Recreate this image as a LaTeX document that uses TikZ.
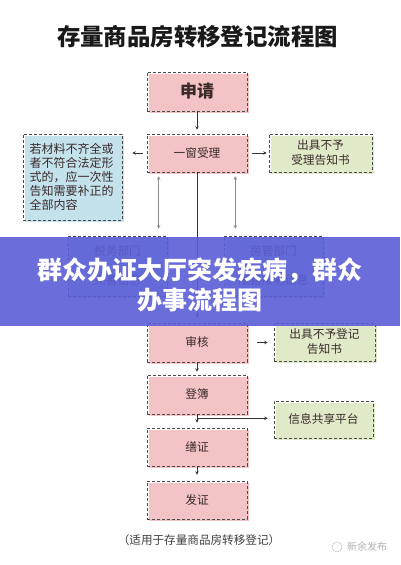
\documentclass[tikz,border=0pt]{standalone}
\usepackage{fontspec}
\newfontfamily\cjk{Noto Sans CJK SC}
\usetikzlibrary{arrows.meta,shadows,calc}
\definecolor{pinkf}{HTML}{F3C3C6}
\definecolor{greenf}{HTML}{E0EAC8}
\definecolor{bluef}{HTML}{C3E2EC}
\definecolor{bannerc}{HTML}{5A5ED6}
\definecolor{dashc}{HTML}{4A4A4A}
\definecolor{txtc}{HTML}{3A2A2A}
\begin{document}
\begin{tikzpicture}[x=1pt,y=-1pt,font=\cjk,
  box/.style={draw=dashc, dash pattern=on 3pt off 2pt, line width=0.6pt,
    minimum width=100pt, minimum height=39pt, inner sep=0pt, align=center,
    text=txtc, font=\cjk\fontsize{11.7}{15}\selectfont},
  pinkbox/.style={box, general shadow={fill=pinkf, shadow xshift=2pt, shadow yshift=-2pt}},
  greenbox/.style={box, general shadow={fill=greenf, shadow xshift=2pt, shadow yshift=-2pt}},
  bluebox/.style={box, general shadow={fill=bluef, shadow xshift=2pt, shadow yshift=-2pt}},
  arr/.style={-{Stealth[length=3.5pt,width=3.5pt]}, line width=0.6pt, draw=black!80},
  garr/.style={{Stealth[length=3.5pt,width=3.5pt]}-{Stealth[length=3.5pt,width=3.5pt]}, line width=0.6pt, draw=black!45}
]
\useasboundingbox[fill=white] (0,0) rectangle (400,565);

\node[font=\cjk\bfseries\fontsize{23.4}{28}\selectfont, text=black!90] (tt) at (197.5,37) {存量商品房转移登记流程图};

\node[pinkbox, font=\cjk\bfseries\fontsize{17}{20}\selectfont] (sq) at (197,91.5) {申请};
\node[pinkbox, minimum height=38pt] (yc) at (197,153) {一窗受理};
\node[bluebox, minimum width=99pt, minimum height=86pt, align=left, text width=86pt,
  font=\cjk\fontsize{12}{14}\selectfont] (bl) at (72.5,177) {若材料不齐全或\\者不符合法定形\\式的，应一次性\\告知需要补正的\\全部内容};
\node[greenbox, minimum width=103pt, minimum height=38pt] (g1) at (320.5,153) {出具不予\\受理告知书};

\node[bluebox, minimum width=99pt, minimum height=60pt, font=\cjk\fontsize{11.7}{29}\selectfont] (tax) at (117.5,266) {税务部门\\完善信息};
\node[bluebox, minimum width=99pt, minimum height=60pt, font=\cjk\fontsize{11.7}{29}\selectfont] (fg) at (273.5,266) {房管部门\\限售限购信息};

\node[pinkbox] (sh) at (197,342.5) {审核};
\node[greenbox, minimum width=101pt, minimum height=38pt] (g2) at (324.5,342) {出具不予登记\\告知书};
\node[pinkbox] (db) at (197,394.5) {登簿};
\node[greenbox, minimum width=99pt, minimum height=37pt] (g3) at (323.5,419.5) {信息共享平台};
\node[pinkbox, minimum height=38pt] (sz) at (197,447) {缮证};
\node[pinkbox, minimum height=38pt] (fz) at (197,500) {发证};

% connectors
\draw[arr, shorten >=4pt] (sq) -- (yc);
\draw[arr, shorten <=4pt, shorten >=10pt] (yc.west) -- (bl.east |- yc.west);
\draw[arr, shorten <=5pt, shorten >=2pt] (yc.east) -- (g1.west);
\draw[arr, shorten >=5pt] (yc.south) -- (sh.north);
\draw[garr, shorten <=4pt, shorten >=7pt] ([xshift=12pt]yc.south west) -- ([xshift=12pt]yc.south west |- tax.north);
\draw[garr, shorten <=4pt, shorten >=7pt] ([xshift=-12pt]yc.south east) -- ([xshift=-12pt]yc.south east |- fg.north);
\draw[arr, shorten <=10pt, shorten >=6pt] (sh.east) -- (g2.west |- sh.east);
\draw[arr, shorten >=3pt] (sh) -- (db);
\draw[arr, shorten >=5pt] (db) -- (sz);
\coordinate (br) at ($(db.south)!0.3!(sz.north)$);
\draw[arr, shorten >=6pt] (br) -- (br -| g3.west);
\draw[arr, shorten >=6pt] (sz) -- (fz);

\node[font=\cjk\fontsize{11.6}{14}\selectfont, text=black!75] (ft) at (199,540) {（适用于存量商品房转移登记）};

% watermark
\node[draw=black!25, circle, minimum size=10pt, inner sep=0pt, line width=0.5pt] (ic) at (337,547) {};
\node[text=black!30, font=\cjk\fontsize{10}{12}\selectfont] (wm) at (367,547) {新余发布};

% banner overlay
\fill[bannerc, opacity=0.9] (0,237) rectangle (400,326);
\node[text=white, font=\cjk\bfseries\fontsize{25}{30}\selectfont, align=center] (bn) at (200,285) {群众办证大厅突发疾病，群众\\办事流程图};
\end{tikzpicture}
\end{document}
